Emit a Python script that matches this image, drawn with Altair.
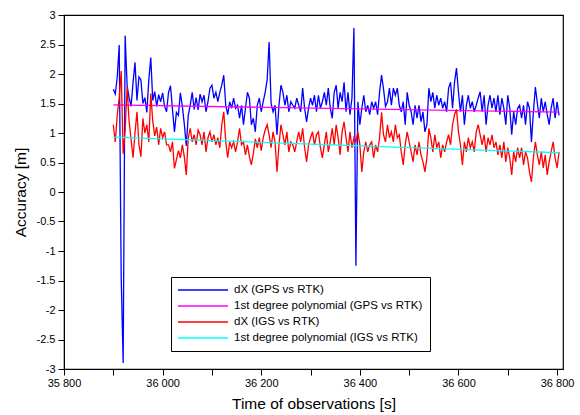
import altair as alt
import pandas as pd

# sampling grid of the two measured series (seconds)
T_START = 35900
T_STEP = 4

gps_dx = [
    1.74, 1.66, 1.95, 2.49, -1.45, -2.9, 2.65, 1.8, 1.6, 1.45,
    1.85, 2.2, 1.55, 1.95, 1.9, 1.5, 1.6, 1.35, 1.9, 2.28,
    1.55, 1.7, 1.45, 1.65, 1.53, 1.68, 1.45, 1.36, 1.69, 1.8,
    1.4, 1.02, 1.35, 1.3, 1.68, 1.45, 1.15, 0.78, 1.3, 1.47,
    1.69, 1.4, 1.6, 1.39, 1.66,
    1.53, 1.64, 1.36, 1.53, 1.76, 1.81, 1.59, 1.69, 1.53, 1.69,
    1.81, 1.98, 1.47, 1.31, 1.53, 1.42, 1.59, 1.42, 1.47, 1.25,
    1.47, 1.14, 1.42, 1.69, 1.59, 1.14, 1.25, 1.02, 1.47, 1.59,
    1.36, 1.53, 1.69, 1.9, 2.54, 1.5, 1.36, 1.47, 0.97, 1.47,
    1.81, 1.69, 1.47, 1.64, 1.36, 1.53,
    1.47, 1.42, 1.59, 1.47, 1.36, 1.76, 1.42, 1.19, 1.42, 1.59,
    1.47, 1.64, 1.36, 1.64, 1.42, 1.53, 1.69, 1.47, 1.76, 1.42,
    1.25, 1.69, 1.81, 1.42, 1.69, 1.53, 1.86, 1.36, 1.69, 1.31, 1.59,
    2.78, -1.25, 1.53, 1.14, 1.42, 1.64, 1.36, 1.47, 1.31, 1.53,
    1.42, 1.53, 1.31, 1.69, 1.98, 1.75,
    1.45, 1.53, 1.76, 1.47, 1.76, 1.64, 1.76, 1.47, 1.36, 1.53,
    1.14, 1.69, 1.47, 1.36, 1.14, 1.47, 1.25, 1.47, 1.19, 1.36,
    1.02, 1.14, 1.76, 1.53, 1.69, 1.42, 1.64, 1.47, 1.59, 1.42,
    1.53, 1.36, 1.76, 1.86, 1.42, 1.86, 2.1, 1.69, 1.36, 1.64,
    1.14, 1.47, 1.64, 1.42, 1.53, 1.36,
    1.47, 1.59, 1.7, 1.36, 1.64, 1.14, 1.47, 1.64, 1.42, 1.59,
    1.36, 1.64, 1.31, 1.59, 1.42, 1.14, 1.64, 1.42, 0.97, 1.36,
    1.14, 1.42, 1.47, 1.25, 1.47, 1.14, 1.53, 1.42, 0.85, 1.36,
    1.78, 1.5, 1.25, 1.59, 1.36, 1.53, 1.31, 1.14, 1.42, 1.59,
    1.25, 1.53, 1.3,
]

igs_dx = [
    1.14, 0.85, 1.3, 1.6, 2.05, 0.65, 1.05, 1.78, 1.2, 0.9,
    0.58, 1.0, 1.36, 0.8, 0.6, 1.25, 1.0, 1.14, 0.85, 1.67,
    1.2, 0.95, 1.1, 0.8, 1.08, 0.92, 1.02, 0.8, 0.8, 0.68,
    0.85, 0.4, 0.55, 0.7, 0.58, 0.8, 0.6, 0.29, 0.92, 1.08,
    0.85, 0.97, 0.8, 1.05, 0.97,
    0.8, 1.02, 0.68, 0.92, 1.02, 0.85, 0.97, 0.8, 0.92, 0.75,
    1.14, 1.36, 0.85, 0.58, 0.85, 0.75, 0.85, 0.68, 0.85, 1.08,
    0.8, 0.85, 0.63, 0.8, 0.6, 0.46, 0.65, 0.9, 0.75, 0.92,
    0.7, 0.92, 1.05, 1.14, 0.97, 0.75, 1.02, 0.85, 0.34, 0.8,
    1.14, 0.97, 0.8, 1.02, 0.68, 0.85,
    0.8, 0.68, 0.85, 1.02, 0.85, 1.08, 0.75, 0.51, 0.8, 0.92,
    1.02, 0.8, 0.97, 1.02, 0.75, 0.58, 0.8, 1.02, 0.68, 0.85,
    1.08, 0.8, 1.14, 0.92, 0.63, 1.02, 1.19, 0.92, 0.68, 1.02, 0.75,
    0.92, 0.85, 1.02, 0.8, 0.34, 0.68, 0.85, 0.68, 0.8, 0.85,
    0.58, 0.8, 0.68, 0.92, 1.35, 0.97,
    0.85, 1.14, 0.92, 1.02, 0.85, 1.14, 0.92, 0.97, 0.68, 0.46,
    0.8, 1.02, 0.85, 0.68, 0.51, 0.8, 0.63, 0.85, 0.63, 0.51,
    0.34, 0.58, 1.08, 0.92, 0.68, 0.97, 0.75, 0.85, 0.58, 0.8,
    0.68, 0.85, 0.97, 0.8, 1.14, 1.31, 1.4, 1.02, 0.8, 0.46,
    0.85, 0.68, 0.92, 0.75, 0.85, 0.68,
    1.02, 1.14, 0.97, 0.8, 0.97, 0.68, 0.92, 0.8, 0.97, 0.75,
    0.85, 0.63, 0.8, 0.58, 0.85, 0.51, 0.75, 0.58, 0.29, 0.68,
    0.51, 0.75, 0.58, 0.75, 0.46, 0.68, 0.58, 0.34, 0.17, 0.58,
    0.85, 0.63, 0.46, 0.68, 0.41, 0.63, 0.29, 0.51, 0.68, 0.85,
    0.58, 0.41, 0.68,
]

fit_t = [35900, 36804]
gps_fit = [1.475, 1.355]
igs_fit = [0.93, 0.665]

x_ticks = [35800, 35900, 36000, 36100, 36200, 36300, 36400, 36500, 36600, 36700, 36800]
y_ticks = [-3, -2.5, -2, -1.5, -1, -0.5, 0, 0.5, 1, 1.5, 2, 2.5, 3]

names = [
    "dX (GPS vs RTK)",
    "1st degree polynomial (GPS vs RTK)",
    "dX (IGS vs RTK)",
    "1st degree polynomial (IGS vs RTK)",
]
colors = ["#0000ff", "#ff00ff", "#ff0000", "#00ffff"]

t_meas = [T_START + T_STEP * i for i in range(len(gps_dx))]

frames = [
    pd.DataFrame({"t": t_meas, "v": gps_dx, "series": names[0]}),
    pd.DataFrame({"t": fit_t, "v": gps_fit, "series": names[1]}),
    pd.DataFrame({"t": t_meas[: len(igs_dx)], "v": igs_dx, "series": names[2]}),
    pd.DataFrame({"t": fit_t, "v": igs_fit, "series": names[3]}),
]

FONT = "Liberation Sans"

x_enc = alt.X(
    "t:Q",
    scale=alt.Scale(domain=[35800, 36812], nice=False, zero=False),
    axis=alt.Axis(
        title="Time of observations [s]",
        values=x_ticks,
        labelExpr="datum.value % 200 === 0 ? replace(format(datum.value, ','), ',', ' ') : ''",
        tickSize=6,
        labelPadding=2,
        titlePadding=8,
        labelFlush=False,
    ),
)
y_enc = alt.Y(
    "v:Q",
    scale=alt.Scale(domain=[-3, 3], nice=False),
    axis=alt.Axis(
        title="Accuracy [m]",
        values=y_ticks,
        labelExpr="'' + datum.value",
        tickSize=6,
        labelPadding=3,
        titlePadding=8,
    ),
)
c_enc = alt.Color(
    "series:N",
    scale=alt.Scale(domain=names, range=colors),
    legend=alt.Legend(
        title=None,
        orient="none",
        legendX=107,
        legendY=262,
        direction="vertical",
        symbolType="M-5,0H5",
        symbolSize=100,
        symbolOffset=19,
        symbolStrokeWidth=1.6,
        labelFont=FONT,
        labelFontSize=11.5,
        labelColor="black",
        labelOffset=25,
        labelLimit=400,
        rowPadding=4,
        padding=7,
        strokeColor="black",
        fillColor="white",
        cornerRadius=0,
    ),
)

layers = [
    alt.Chart(df).mark_line(strokeWidth=1.3, clip=True).encode(x=x_enc, y=y_enc, color=c_enc)
    for df in frames
]

chart = (
    alt.layer(*layers)
    .properties(
        width=499,
        height=354,
        autosize=alt.AutoSizeParams(type="none"),
        padding={"left": 64, "top": 15, "right": 17, "bottom": 46},
        background="white",
    )
    .configure_view(stroke="black", strokeWidth=1.2)
    .configure_axis(
        grid=False,
        labelFont=FONT,
        labelFontSize=11,
        labelColor="black",
        titleFont=FONT,
        titleFontSize=15.5,
        titleFontWeight="normal",
        titleColor="black",
        domainColor="black",
        tickColor="black",
    )
)

chart.save("out.html", embed_options={"renderer": "svg", "actions": False})
